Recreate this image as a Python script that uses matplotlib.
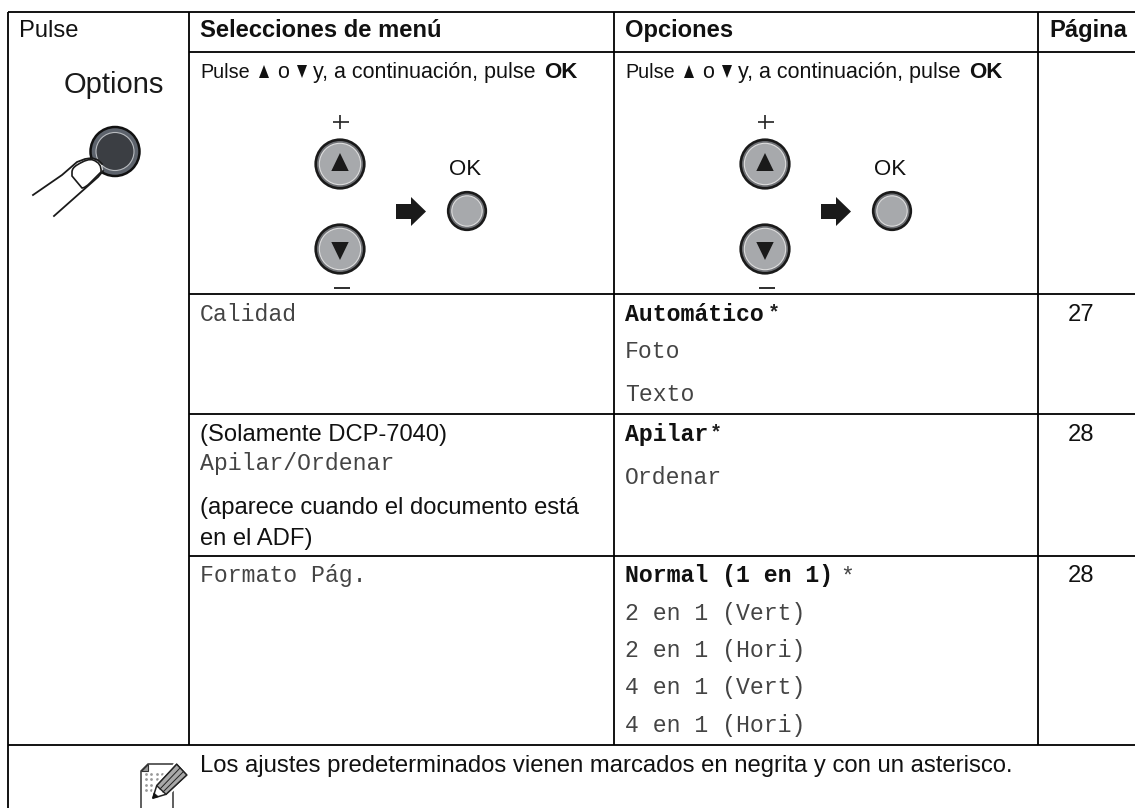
import matplotlib
matplotlib.use("Agg")
import matplotlib.pyplot as plt
from matplotlib.patches import Circle, Polygon, PathPatch, Rectangle
from matplotlib.path import Path

# Table content
header_labels = ["Selecciones de menú", "Opciones", "Página"]
first_col_title = "Pulse"
button_name = "Options"
calidad_menu = "Calidad"
calidad_opts = ["Foto", "Texto"]
calidad_default = "Automático"
apilar_note = "(Solamente DCP-7040)"
apilar_menu = "Apilar/Ordenar"
apilar_note2 = ["(aparece cuando el documento está", "en el ADF)"]
apilar_default = "Apilar"
apilar_opts = ["Ordenar"]
formato_menu = "Formato Pág."
formato_default = "Normal (1 en 1)"
formato_opts = ["2 en 1 (Vert)", "2 en 1 (Hori)", "4 en 1 (Vert)", "4 en 1 (Hori)"]
pages = ["27", "28", "28"]
footer = "Los ajustes predeterminados vienen marcados en negrita y con un asterisco."

SANS = "Liberation Sans"
MONO = "Liberation Mono"
INK = "#111111"
MONO_INK = "#444444"

fig = plt.figure(figsize=(11.35, 8.08), dpi=100)
ax = fig.add_axes([0, 0, 1, 1])
ax.set_xlim(0, 1135)
ax.set_ylim(808, 0)
ax.axis("off")


def line(x0, y0, x1, y1, lw=1.3, c="black", z=2):
    ax.plot([x0, x1], [y0, y1], color=c, lw=lw, solid_capstyle="butt", zorder=z)


def txt(x, y, s, size=17.1, family=SANS, weight="normal", color=INK, ha="left"):
    ax.text(x, y, s, fontsize=size, family=family, weight=weight, color=color,
            ha=ha, va="baseline", zorder=5)


def round_button(cx, cy, r, glyph=None):
    ax.add_patch(Circle((cx, cy), r - 0.7, fc="#6f7175", ec="#1a1a1a", lw=1.9, zorder=3))
    ax.add_patch(Circle((cx, cy), r - 4.3, fc="#a7a9ac", ec="#dedede", lw=0.8, zorder=4))
    if glyph == "up":
        ax.add_patch(Polygon([(cx, cy - 11), (cx - 8.7, cy + 7), (cx + 8.7, cy + 7)], fc="#1a1a1a", ec="none", zorder=5))
    if glyph == "down":
        ax.add_patch(Polygon([(cx, cy + 11), (cx - 8.7, cy - 7), (cx + 8.7, cy - 7)], fc="#1a1a1a", ec="none", zorder=5))


def key_group(dx):
    # + / up / down / - / arrow / OK
    line(340 + dx, 115, 340 + dx, 129, lw=1.2, c="#222222")
    line(333 + dx, 122, 349 + dx, 122, lw=1.2, c="#222222")
    round_button(340 + dx, 164, 25, "up")
    round_button(340 + dx, 249, 25, "down")
    ax.add_patch(Rectangle((334 + dx, 286.5), 16, 2.4, fc="#333333", ec="none", zorder=3))
    ax.add_patch(Polygon([(396 + dx, 204), (411 + dx, 204), (411 + dx, 197), (426 + dx, 211.5),
                          (411 + dx, 226), (411 + dx, 219), (396 + dx, 219)],
                         fc="#1a1a1a", ec="none", zorder=3))
    txt(465 + dx, 175, "OK", size=16, ha="center")
    round_button(467 + dx, 211, 19.5)


def press_line(x0):
    # "Pulse ▲ o ▼ y, a continuación, pulse OK"
    txt(x0, 78, "Pulse", size=14.2)
    ax.add_patch(Polygon([(x0 + 64, 65), (x0 + 59, 78), (x0 + 69, 78)], fc="#111111", ec="none", zorder=5))
    txt(x0 + 77, 78, "o", size=15.5)
    ax.add_patch(Polygon([(x0 + 102, 78), (x0 + 97, 65), (x0 + 107, 65)], fc="#111111", ec="none", zorder=5))
    txt(x0 + 113, 78, "y, a continuación, pulse", size=15.5)
    txt(x0 + 344, 78, "OK", size=16, weight="bold")


# grid
line(7.5, 12, 1135, 12)
line(7.5, 12, 7.5, 808)
for x in [189, 614, 1037.5]:
    line(x, 12, x, 745)
for y in [52, 294, 414, 556]:
    line(189, y, 1135, y)
line(7.5, 745, 1135, 745)

# header
txt(19, 37, first_col_title)
txt(200, 37, header_labels[0], weight="bold")
txt(625, 37, header_labels[1], weight="bold")
txt(1049, 37, header_labels[2], weight="bold")

# options button and finger
txt(64, 93, button_name, size=21, color="#1a1a1a")
ax.add_patch(Circle((115, 151.5), 24.5, fc="#5d636c", ec="#111111", lw=1.8, zorder=3))
ax.add_patch(Circle((115, 151.5), 19, fc="#3b3e43", ec="#b9bcc0", lw=0.8, zorder=4))
finger = Polygon([(33, 195), (77, 162), (92, 158), (102, 164), (103, 171), (98, 177), (54, 216)],
                 fc="white", ec="none", zorder=5)
ax.add_patch(finger)
ax.plot([33, 62, 77, 85, 92, 98, 102], [195, 175, 162, 159, 158, 160, 164], color="#1a1a1a", lw=1.3, zorder=6)
ax.plot([54, 98, 103], [216, 177, 171], color="#1a1a1a", lw=1.3, zorder=6)
nail = Path(
    [(72, 172), (72, 168), (77, 165), (88, 158), (93, 160), (102, 163), (101, 172), (90, 183), (85, 188), (82, 188), (72, 176), (72, 172)],
    [Path.MOVETO, Path.CURVE3, Path.CURVE3, Path.CURVE3, Path.CURVE3, Path.CURVE3, Path.CURVE3, Path.LINETO, Path.CURVE3, Path.CURVE3, Path.LINETO, Path.CLOSEPOLY],
)
ax.add_patch(PathPatch(nail, fc="white", ec="#1a1a1a", lw=1.2, zorder=7))

# key rows
press_line(200)
press_line(625)
key_group(0)
key_group(425)

# Calidad
txt(200, 321, calidad_menu, size=16.7, family=MONO, color=MONO_INK)
txt(625, 321, calidad_default, size=16.7, family=MONO, weight="bold")
txt(768, 318.5, "*", size=14.5, family=MONO, weight="bold", color="#222222")
for y, s in zip([358, 401], calidad_opts):
    txt(625, y, s, size=16.7, family=MONO, color=MONO_INK)
txt(1068, 321, pages[0])

# Apilar
txt(200, 441, apilar_note)
txt(200, 470, apilar_menu, size=16.7, family=MONO, color=MONO_INK)
for y, s in zip([514, 545], apilar_note2):
    txt(200, y, s)
txt(625, 441, apilar_default, size=16.7, family=MONO, weight="bold")
txt(710, 438.5, "*", size=14.5, family=MONO, weight="bold", color="#222222")
for y, s in zip([484], apilar_opts):
    txt(625, y, s, size=16.7, family=MONO, color=MONO_INK)
txt(1068, 441, pages[1])

# Formato
txt(200, 582, formato_menu, size=16.7, family=MONO, color=MONO_INK)
txt(625, 582, formato_default, size=16.7, family=MONO, weight="bold")
txt(840, 584, "*", size=16.7, family=MONO, color=MONO_INK)
for y, s in zip([620, 657, 694, 732], formato_opts):
    txt(625, y, s, size=16.7, family=MONO, color=MONO_INK)
txt(1068, 582, pages[2])

# footer note icon
txt(200, 772, footer, size=17.2)
ax.add_patch(Polygon([(148, 764), (173, 764), (173, 812), (141, 812), (141, 771)], fc="white", ec="#333333", lw=1.1, zorder=3))
ax.add_patch(Polygon([(148, 764), (148, 771), (141, 771)], fc="#9a9a9a", ec="#333333", lw=0.8, zorder=4))
dot_x = [146, 151, 157, 162]
dot_y = [774, 779, 785, 790]
ax.scatter([x for x in dot_x for y in dot_y], [y for x in dot_x for y in dot_y], s=4, color="#999999", linewidths=0, zorder=4)
# pencil, white halo first
pencil = [(152.7, 798.3), (156.7, 785.7), (176.7, 764.3), (186.7, 775), (166, 794.3)]
ax.add_patch(Polygon(pencil, fc="white", ec="white", lw=4, zorder=5))
ax.add_patch(Polygon(pencil, fc="white", ec="#222222", lw=1.1, zorder=6))
ax.add_patch(Polygon([(156.7, 785.7), (176.7, 764.3), (186.7, 775), (166, 794.3)], fc="#a8a8a8", ec="#222222", lw=1.0, zorder=6))
ax.plot([160, 180], [789, 768], color="#222222", lw=0.7, zorder=7)
ax.plot([163, 183.5], [792, 771.5], color="#222222", lw=0.7, zorder=7)
ax.add_patch(Polygon([(152.7, 798.3), (154, 793), (158.3, 796.7)], fc="#111111", ec="#111111", lw=0.5, zorder=7))

fig.savefig("out.png", dpi=100)
